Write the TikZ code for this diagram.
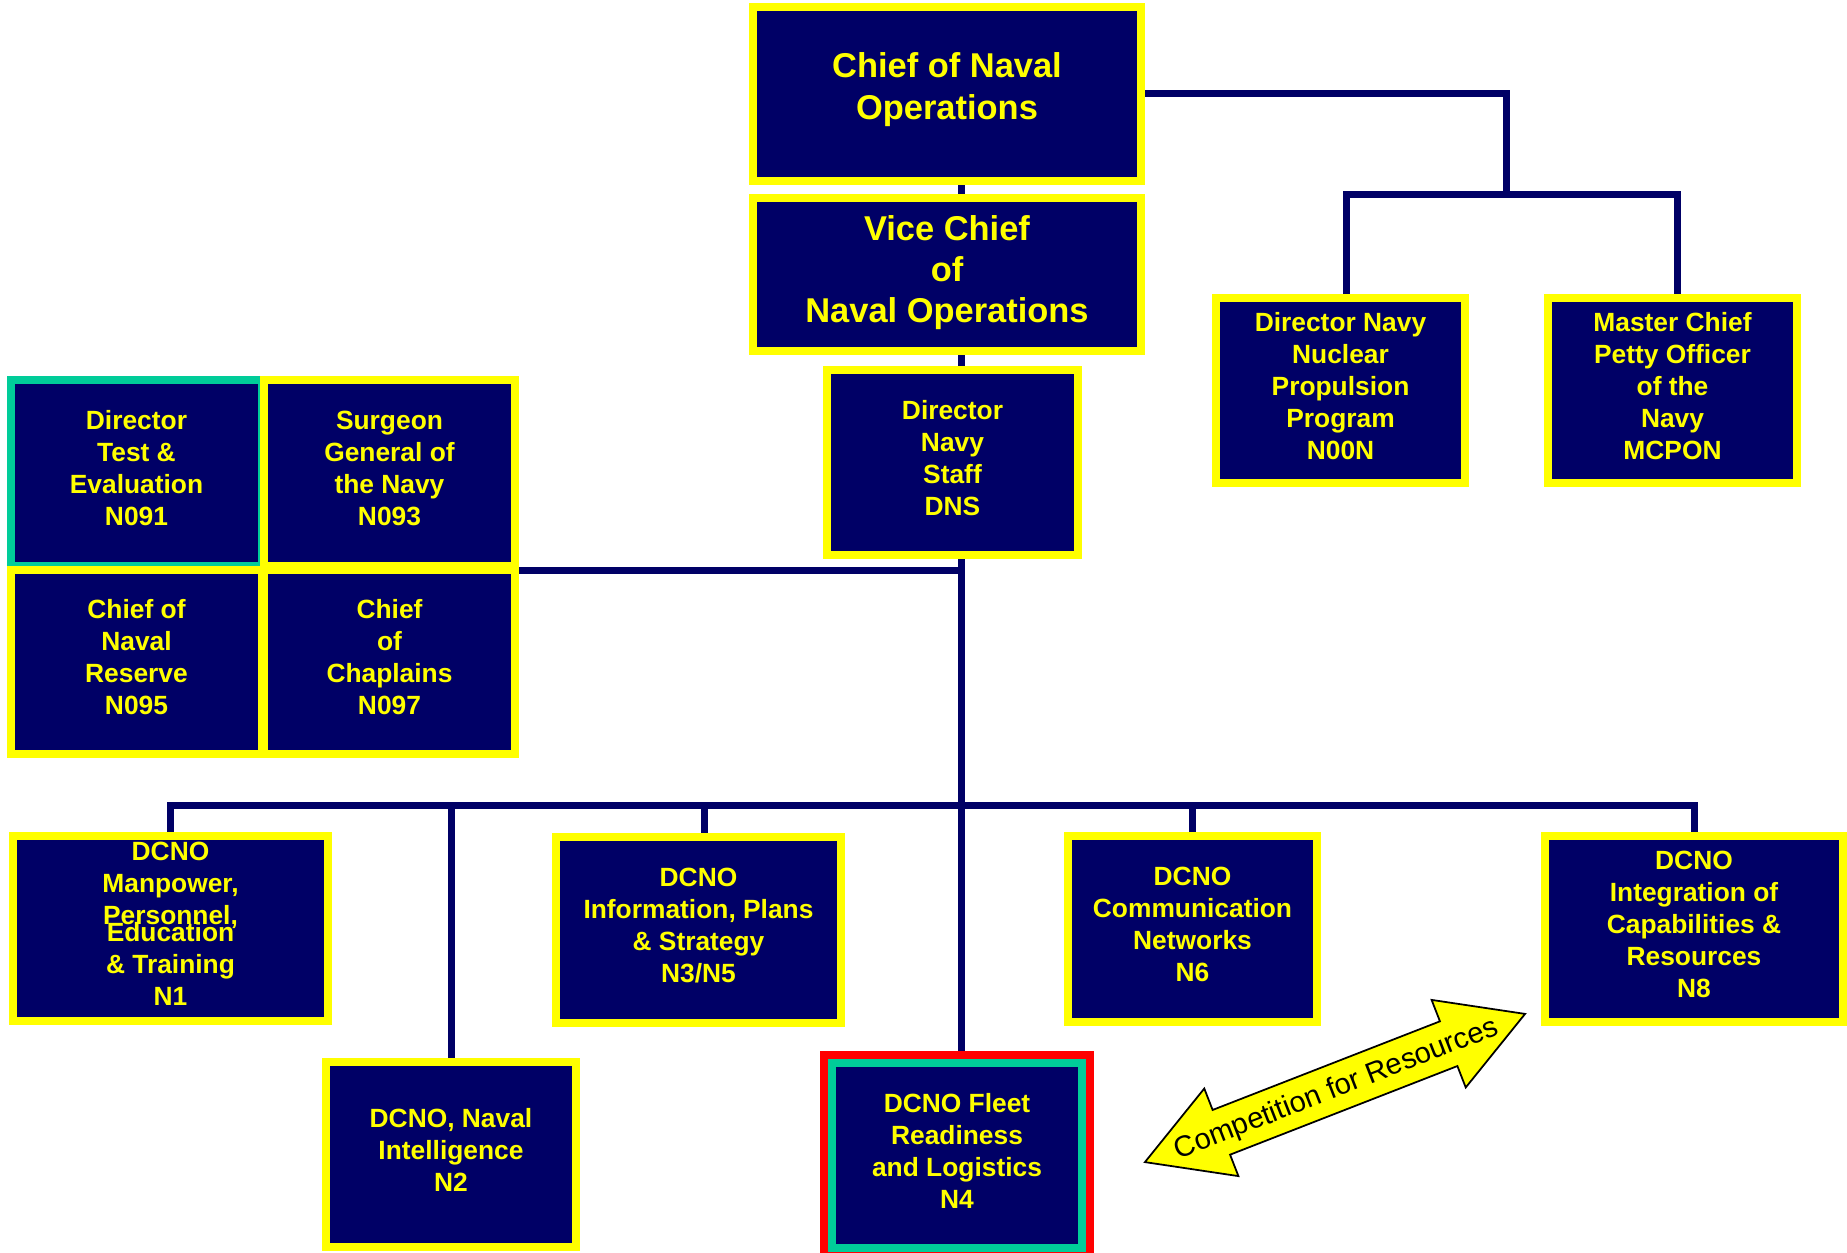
\documentclass[tikz,border=0pt]{standalone}
\usepackage{fontspec}
\setmainfont{Liberation Sans}
\usepackage{tikz}
\usepackage{xcolor}
\definecolor{navy}{RGB}{0,0,102}
\definecolor{orgyellow}{RGB}{255,255,0}
\definecolor{orgteal}{RGB}{0,204,153}
\definecolor{orgred}{RGB}{255,0,0}
\newcommand{\orgfont}{\fontsize{7.5}{9.1}\selectfont\bfseries}
\newcommand{\topfont}{\fontsize{9.8}{11.7}\selectfont\bfseries}
\tikzset{office/.style={draw=orgyellow, fill=navy, line width=0.08cm, text=orgyellow,
   font=\orgfont, align=center, inner sep=0pt, text depth=0.1cm,
   minimum width=2.50cm, minimum height=1.85cm},
 topoffice/.style={office, font=\topfont, minimum width=3.88cm},
 tealoffice/.style={office, draw=orgteal},
 link/.style={draw=navy, line width=0.07cm},
 }
\usetikzlibrary{backgrounds}

\begin{document}
\begin{tikzpicture}
        \useasboundingbox (0,0) rectangle (18.47,-12.53);
        \node[topoffice, minimum height=1.74cm, text depth=0.16cm] (cno) at (9.47,-0.94) {Chief of Naval\\Operations};
        \node[topoffice, minimum height=1.53cm, text depth=0.11cm] (vcno) at (9.47,-2.745) {Vice Chief\\of\\Naval Operations};
        \node[office, minimum width=2.51cm] (dns) at (9.525,-4.625) {Director\\Navy\\Staff\\DNS};
        \node[office, minimum width=2.49cm] (nuc) at (13.405,-3.905) {Director Navy\\Nuclear\\Propulsion\\Program\\N00N};
        \node[office, minimum width=2.49cm] (mcpon) at (16.725,-3.905) {Master Chief\\Petty Officer\\of the\\Navy\\MCPON};
        \node[tealoffice, minimum width=2.51cm, minimum height=1.86cm] (n091) at (1.365,-4.73) {Director\\Test \&\\Evaluation\\N091};
        \node[office, minimum width=2.51cm, minimum height=1.86cm] (n093) at (3.895,-4.73) {Surgeon\\General of\\the Navy\\N093};
        \node[office, minimum width=2.51cm, minimum height=1.84cm] (n095) at (1.365,-6.62) {Chief of\\Naval\\Reserve\\N095};
        \node[office, minimum width=2.51cm, minimum height=1.84cm] (n097) at (3.895,-6.62) {Chief\\of\\Chaplains\\N097};
        \node[office, minimum width=3.15cm] (n1) at (1.705,-9.285) {DCNO\\Manpower,\\Personnel,\\[-0.15cm]Education\\\& Training\\N1};
        \node[office] (n2) at (4.51,-11.545) {DCNO, Naval\\Intelligence\\N2};
        \node[office, minimum width=2.85cm, minimum height=1.86cm] (n3) at (6.985,-9.30) {DCNO\\Information, Plans\\\& Strategy\\N3/N5};
        \node[office, draw=orgteal, preaction={draw=orgred, line width=0.24cm}] (n4) at (9.57,-11.555) {DCNO Fleet\\Readiness\\and Logistics\\N4};
        \node[office, minimum width=2.49cm, minimum height=1.86cm] (n6) at (11.925,-9.29) {DCNO\\Communication\\Networks\\N6};
        \node[office, minimum width=2.98cm, minimum height=1.86cm] (n8) at (16.94,-9.29) {DCNO\\Integration of\\Capabilities \&\\Resources\\N8};
        \begin{scope}[shift={(13.35,-10.88)}, rotate=21.3]
            \draw[fill=orgyellow, draw=black, line width=0.5pt] (-2.04,0) -- (-1.22,0.47) -- (-1.22,0.24) -- (1.22,0.24) -- (1.22,0.47) -- (2.04,0) -- (1.22,-0.47) -- (1.22,-0.24) -- (-1.22,-0.24) -- (-1.22,-0.47) -- cycle;
            \node[transform shape, font=\fontsize{8.3}{10}\selectfont, inner sep=0pt] (comp) at (0.01,-0.02) {Competition for Resources};
        \end{scope}
        \begin{scope}[on background layer]
            \coordinate (jtop) at (15.06,-1.95);
            \coordinate (spine) at (9.61,-1.85);
            \coordinate (bus) at (9.61,-8.05);
            \draw[link] (cno.east) -| (jtop);
            \draw[link] ([xshift=0.06cm]nuc.north) |- (jtop) -| ([xshift=0.05cm]mcpon.north);
            \draw[link] (spine) -- (spine |- n4.north);
            \draw[link] (n093.south east) -- (n093.south east -| spine);
            \draw[link] (n1.north) |- (bus) -| (n8.north);
            \foreach \dept/\dx in {n2/0, n3/0.06, n6/0} {
                \draw[link] ([xshift=\dx cm]\dept.north) |- (bus);
            }
        \end{scope}
    \end{tikzpicture}
\end{document}
